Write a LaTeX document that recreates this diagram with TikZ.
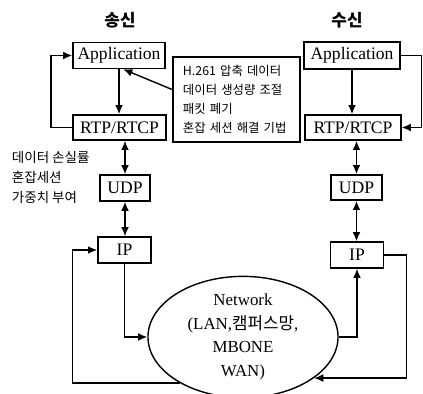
\documentclass[tikz,border=0pt]{standalone}
\usepackage{fontspec}
\setmainfont{Liberation Serif}
\newfontfamily\kr{Noto Sans CJK KR}
\usetikzlibrary{shapes.geometric, arrows.meta}

\begin{document}
\begin{tikzpicture}[
	x=0.025cm, y=-0.025cm,
	>={Latex[length=6.5pt, width=5.5pt]},
	layer/.style={draw, line width=1pt, inner sep=0pt, font=\fontsize{12.5}{14}\selectfont},
	side/.style={font=\kr\bfseries\fontsize{12}{14}\selectfont},
	memo/.style={font=\kr\fontsize{8.8}{13.5}\selectfont, align=left},
	link/.style={line width=1pt}
	]
	\useasboundingbox (0,0) rectangle (423,394);

	% sender stack
	\node[side] (ttlS) at (120,20) {송신};
	\node[layer, minimum width=2.3cm, minimum height=0.65cm] (appS) at (119,55.5) {Application};
	\node[layer, minimum width=2.33cm, minimum height=0.63cm] (rtpS) at (119.5,127.5) {RTP/RTCP};
	\node[layer, minimum width=1.25cm, minimum height=0.65cm] (udpS) at (125,188) {UDP};
	\node[layer, minimum width=1.33cm, minimum height=0.65cm] (ipS) at (124.5,250) {IP};

	% receiver stack
	\node[side] (ttlR) at (347,20) {수신};
	\node[layer, minimum width=2.4cm, minimum height=0.68cm] (appR) at (352,55.5) {Application};
	\node[layer, minimum width=2.4cm, minimum height=0.63cm] (rtpR) at (353,127.5) {RTP/RTCP};
	\node[layer, minimum width=1.28cm, minimum height=0.63cm] (udpR) at (356.5,187.5) {UDP};
	\node[layer, minimum width=1.33cm, minimum height=0.65cm] (ipR) at (357,255) {IP};

	% remarks
	\node[memo, draw, line width=1pt, text width=2.675cm, inner xsep=7pt,
		minimum height=2.13cm] (note) at (236.5,99.5)
		{H.261 압축 데이터\\데이터 생성량 조절\\패킷 폐기\\혼잡 세션 해결 기법};
	\node[memo, anchor=west, font=\kr\fontsize{9.6}{14.2}\selectfont] (weight) at (7,177)
		{데이터 손실률\\혼잡세션\\가중치 부여};

	% network cloud
	\node[ellipse, draw, line width=1pt, inner sep=0pt, minimum width=4.75cm, minimum height=2.75cm,
		align=center, font=\fontsize{12}{16.7}\selectfont] (net) at (243,337)
		{Network\\(LAN,{\kr 캠퍼스망},\\MBONE\\WAN)};

	% sender links
	\draw[link, ->] (appS.south) -- (appS.south |- rtpS.north);
	\draw[link, <->] (rtpS.south -| udpS) -- (udpS.north);
	\draw[link, <->] (udpS.south) -- (udpS.south |- ipS.north);
	\draw[link, ->] (rtpS.west) -- ++(-21,0) |- (appS.west);
	\draw[link, ->] ([yshift=7pt]note.west) -- ([xshift=3pt]appS.south);
	\draw[link, ->] (ipS.south) |- (net.west);
	\draw[link, ->] (net.216) -- ++(-107,0) |- (ipS.west);

	% receiver links
	\draw[link, ->] (appR.south) -- (appR.south |- rtpR.north);
	\draw[link, <->] (rtpR.south -| udpR) -- (udpR.north);
	\draw[link, <->] (udpR.south) -- (udpR.south |- ipR.north);
	\draw[link, ->] (appR.east) -- ++(21,0) |- (rtpR.east);
	\draw[link, ->] (net.east) -| (ipR.south);
	\draw[link, ->] (ipR.east) -- ++(22,0) |- (net.330);
\end{tikzpicture}
\end{document}
